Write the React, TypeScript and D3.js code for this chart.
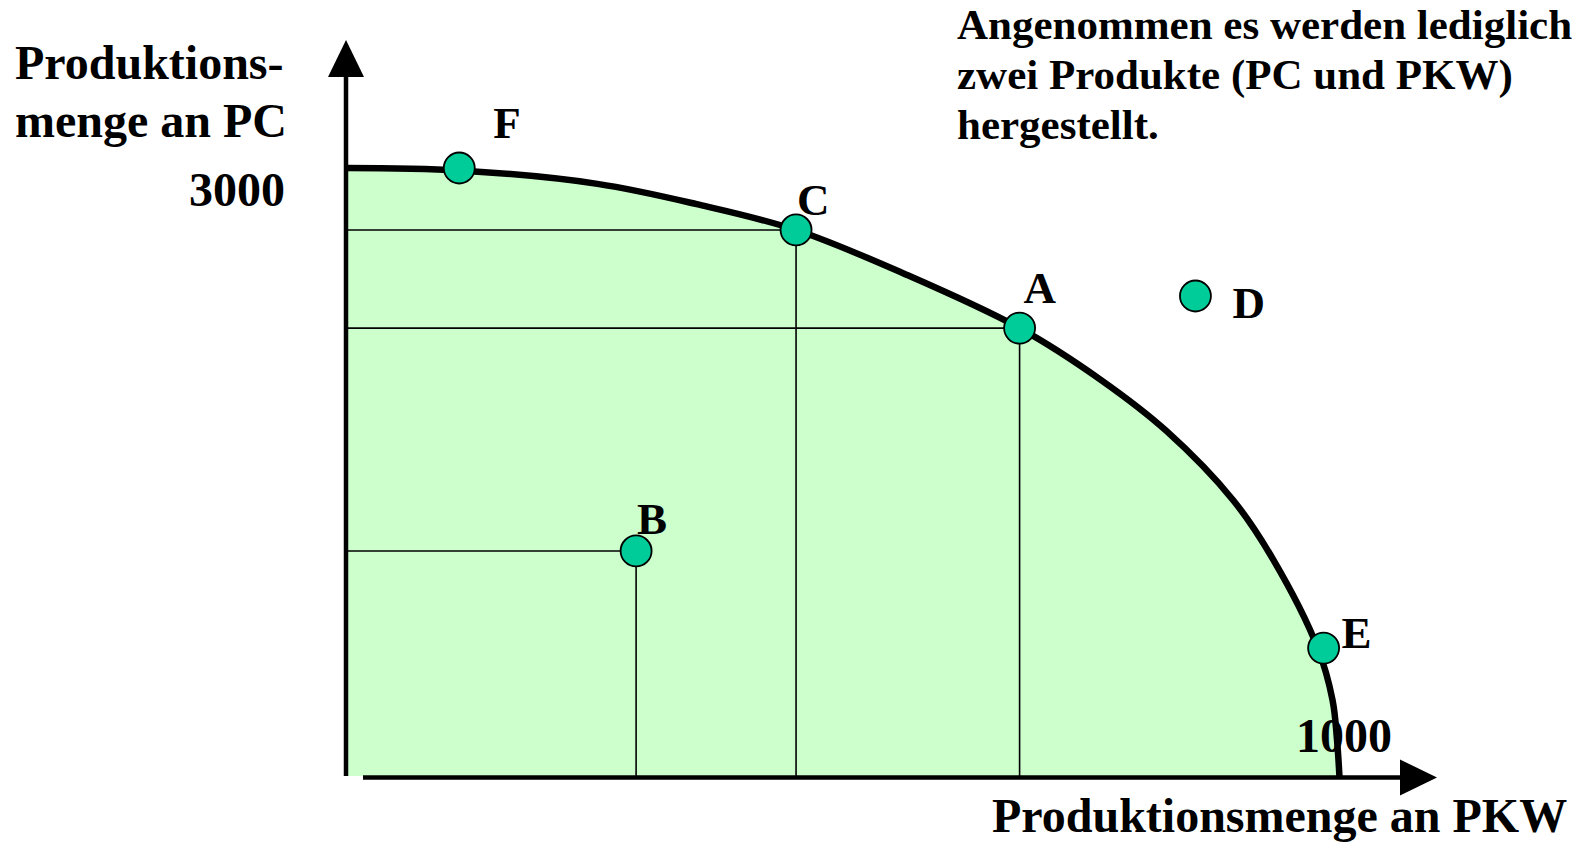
import React from "react";
import * as d3 from "d3";

// Production possibility frontier (PKW on x, PC on y)
const frontierX = [0, 114, 253, 353, 453, 564, 678, 759, 826, 893, 933, 978, 993, 997.5, 1000];
const frontierY = [3000, 2988, 2922, 2822, 2695, 2475, 2212, 1960, 1705, 1365, 1075, 638, 381, 185, 0];

const pointNames = ["F", "C", "A", "D", "B", "E"];
const pointX = [114, 453, 678, 855, 292, 984];
const pointY = [3000, 2695, 2212, 2370, 1115, 637];
const guidePoints = ["C", "A", "B"];

const yTickLabel = "3000";
const xTickLabel = "1000";
const yTitleLines = ["Produktions-", "menge an PC"];
const xTitle = "Produktionsmenge an PKW";
const noteLines = ["Angenommen es werden lediglich", "zwei Produkte (PC und PKW)", "hergestellt."];

const W = 1579;
const H = 842;
const FONT = "'Liberation Serif', 'Times New Roman', serif";

export default function App() {
  const x = d3.scaleLinear().domain([0, 1000]).range([346, 1339.5]);
  const y = d3.scaleLinear().domain([0, 3000]).range([777.5, 168]);

  const pts: [number, number][] = frontierX.map((v, i) => [v, frontierY[i]]);
  const line = d3
    .line<[number, number]>()
    .x((d) => x(d[0]))
    .y((d) => y(d[1]))
    .curve(d3.curveCatmullRom.alpha(0.5));
  const area = d3
    .area<[number, number]>()
    .x((d) => x(d[0]))
    .y0(y(0) - 1.5)
    .y1((d) => y(d[1]))
    .curve(d3.curveCatmullRom.alpha(0.5));

  // label offsets (relative to point center) for letters
  const labelOffset: Record<string, [number, number]> = {
    F: [34, -30],
    C: [1, -15],
    A: [4, -25],
    D: [37, 22],
    B: [1, -17],
    E: [18, 0],
  };

  const x0 = x(0);
  const yBase = y(0);

  return (
    <div style={{ position: "absolute", left: 0, top: 0, width: W, height: H, background: "#fff" }}>
      <svg width={W} height={H} style={{ display: "block" }}>
        <rect x={0} y={0} width={W} height={H} fill="#ffffff" />
        {/* fill */}
        <path d={area(pts) || ""} fill="#CCFFCC" stroke="none" />

        {/* guide lines */}
        {guidePoints.map((name) => {
          const i = pointNames.indexOf(name);
          const px = x(pointX[i]);
          const py = y(pointY[i]);
          return (
            <g key={"g" + name} stroke="#000" strokeWidth={1.6}>
              <line x1={x0} y1={py} x2={px} y2={py} />
              <line x1={px} y1={py} x2={px} y2={yBase} />
            </g>
          );
        })}

        {/* axes */}
        <line x1={x0} y1={76} x2={x0} y2={776} stroke="#000" strokeWidth={4.5} />
        <path d={`M${x0},40 L${x0 + 18},77 L${x0 - 18},77 Z`} fill="#000" />
        <line x1={363} y1={yBase} x2={1402} y2={yBase} stroke="#000" strokeWidth={4.5} />
        <path d={`M1437,${yBase} L1400,${yBase - 18} L1400,${yBase + 18} Z`} fill="#000" />

        {/* tick labels */}
        <text x={285} y={206} fontFamily={FONT} fontWeight="bold" fontSize={48} textAnchor="end">
          {yTickLabel}
        </text>
        <text x={1296} y={752} fontFamily={FONT} fontWeight="bold" fontSize={48}>
          {xTickLabel}
        </text>

        {/* frontier */}
        <path d={line(pts) || ""} fill="none" stroke="#000" strokeWidth={6.5} />

        {/* points */}
        {pointNames.map((name, i) => (
          <circle
            key={"p" + name}
            cx={x(pointX[i])}
            cy={y(pointY[i])}
            r={15.5}
            fill="#00CC99"
            stroke="#000"
            strokeWidth={1.8}
          />
        ))}
        {pointNames.map((name, i) => {
          const [dx, dy] = labelOffset[name];
          return (
            <text
              key={"l" + name}
              x={x(pointX[i]) + dx}
              y={y(pointY[i]) + dy}
              fontFamily={FONT}
              fontWeight="bold"
              fontSize={45}
            >
              {name}
            </text>
          );
        })}

        {/* titles */}
        {yTitleLines.map((t, i) => (
          <text key={"yt" + i} x={15} y={79 + i * 58} fontFamily={FONT} fontWeight="bold" fontSize={48}>
            {t}
          </text>
        ))}
        <text x={992} y={832} fontFamily={FONT} fontWeight="bold" fontSize={48}>
          {xTitle}
        </text>
        {noteLines.map((t, i) => (
          <text key={"n" + i} x={957} y={39 + i * 50} fontFamily={FONT} fontWeight="bold" fontSize={43}>
            {t}
          </text>
        ))}
      </svg>
    </div>
  );
}
